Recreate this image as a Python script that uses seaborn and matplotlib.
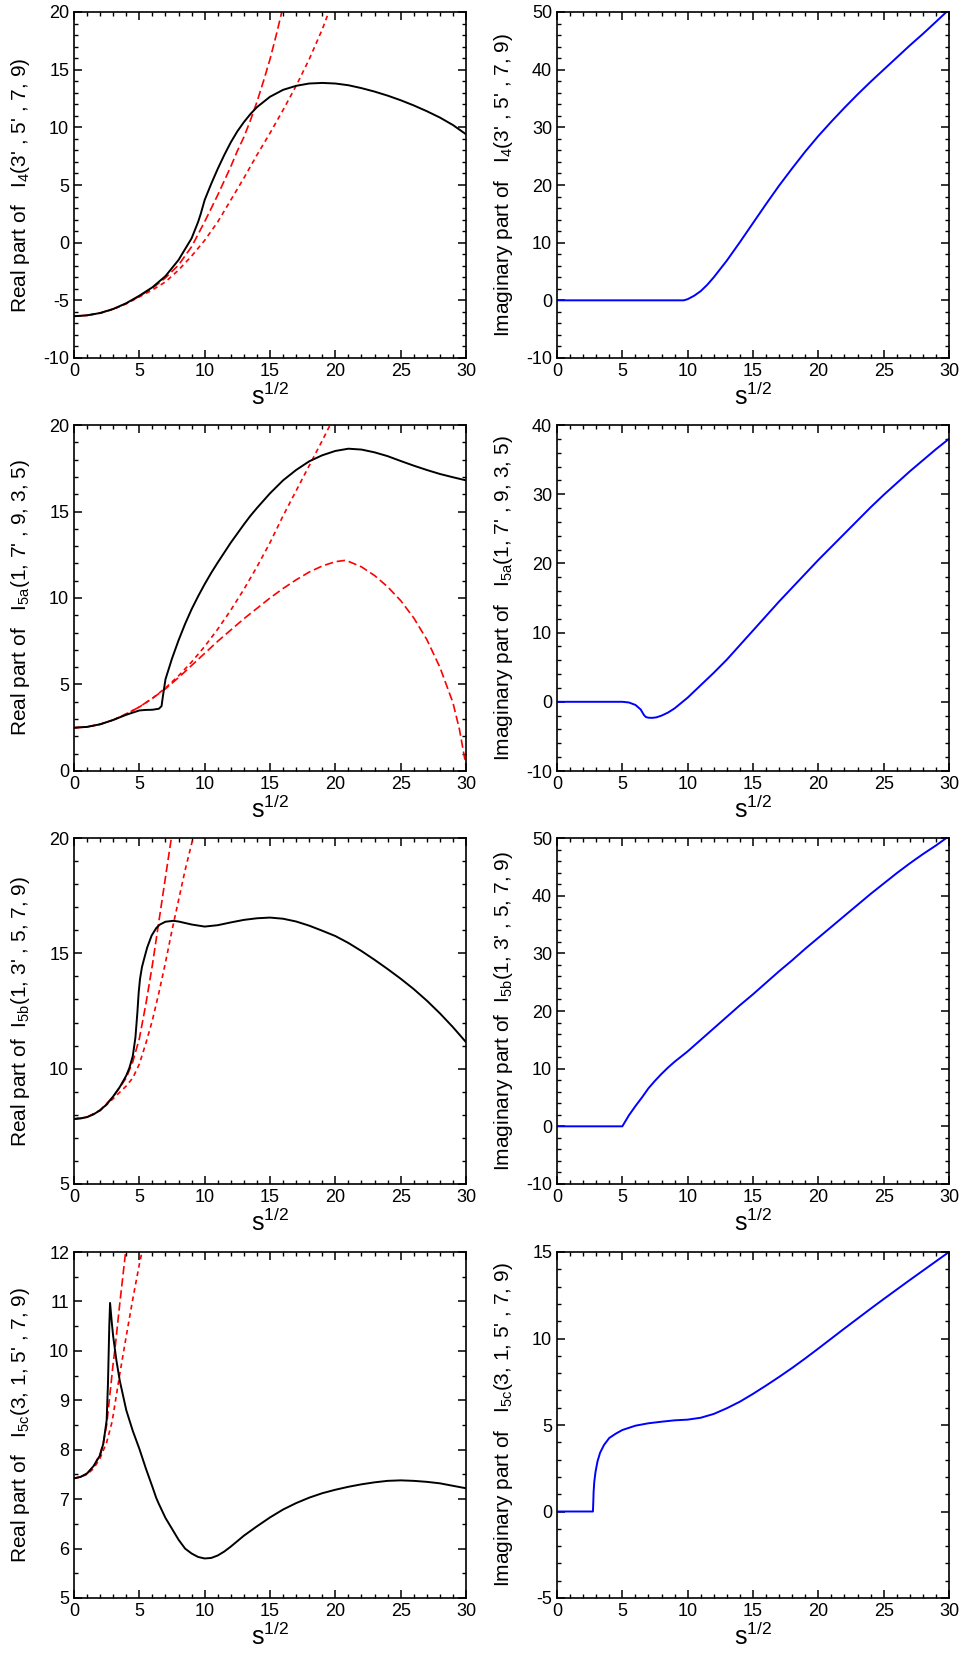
import matplotlib
matplotlib.use("Agg")
import matplotlib.pyplot as plt
from matplotlib.ticker import MultipleLocator
import seaborn as sns

# ── Data (x = s^(1/2)) ────────────────────────────────────────────────────
# I4(3',5',7,9)
i4_re_x = [0, 1, 2, 3, 4, 5, 6, 7, 8, 9, 9.5, 9.7, 10, 10.5, 11, 11.5, 12, 12.5, 13, 13.5,
           14, 15, 16, 17, 18, 19, 20, 21, 22, 23, 24, 25, 26, 27, 28, 29, 30]
i4_re_y = [-6.38, -6.3, -6.1, -5.75, -5.25, -4.6, -3.87, -2.9, -1.5, 0.38, 1.8, 2.5, 3.7,
           5.1, 6.4, 7.6, 8.7, 9.65, 10.45, 11.15, 11.75, 12.65, 13.25, 13.6, 13.8, 13.85,
           13.8, 13.65, 13.4, 13.1, 12.75, 12.35, 11.9, 11.4, 10.85, 10.2, 9.4]
i4_long_x = [0, 1, 2, 3, 4, 5, 6, 7, 8, 9, 10, 11, 12, 12.5, 13, 13.5, 14, 14.5, 15, 15.5, 15.9]
i4_long_y = [-6.38, -6.3, -6.1, -5.75, -5.27, -4.65, -3.95, -3.05, -1.94, -0.35, 1.82,
             4.13, 6.6, 7.95, 9.15, 10.6, 12.2, 14.0, 15.9, 18.1, 20.0]
i4_short_x = [0, 1, 2, 3, 4, 5, 6, 7, 8, 9, 10, 11, 12, 13, 14, 15, 16, 17, 18, 19, 19.5]
i4_short_y = [-6.38, -6.3, -6.12, -5.78, -5.3, -4.7, -4.1, -3.4, -2.37, -1.16, 0.2, 1.8,
              3.7, 5.6, 7.6, 9.5, 11.5, 13.6, 15.9, 18.5, 20.0]
i4_im_x = [0, 9.7, 10, 10.5, 11, 11.5, 12, 13, 14, 15, 16, 17, 18, 19, 20, 21, 22, 23, 24,
           25, 26, 27, 28, 29, 29.8]
i4_im_y = [0, 0, 0.2, 0.8, 1.6, 2.7, 4.0, 6.9, 10.1, 13.4, 16.7, 19.9, 22.9, 25.8, 28.5,
           31.0, 33.4, 35.7, 37.9, 40.0, 42.1, 44.2, 46.2, 48.3, 50.0]

# I5a(1,7',9,3,5)
i5a_re_x = [0, 1, 2, 3, 4, 5, 5.5, 6, 6.5, 6.7, 6.8, 7, 7.5, 8, 8.5, 9, 9.5, 10, 10.5, 11,
            12, 13, 13.5, 14, 15, 16, 17, 18, 19, 20, 21, 22, 23, 24, 25, 26, 27, 28, 29, 30]
i5a_re_y = [2.5, 2.55, 2.7, 2.95, 3.25, 3.5, 3.53, 3.54, 3.6, 3.75, 4.3, 5.3, 6.5, 7.55,
            8.5, 9.35, 10.1, 10.8, 11.45, 12.05, 13.2, 14.25, 14.75, 15.2, 16.05, 16.8,
            17.4, 17.9, 18.25, 18.5, 18.63, 18.58, 18.42, 18.2, 17.92, 17.65, 17.4,
            17.17, 16.98, 16.8]
i5a_short_x = [0, 1, 2, 3, 4, 5, 6, 7, 8, 9, 10, 11, 12, 13, 14, 15, 16, 17, 18, 19, 19.6]
i5a_short_y = [2.5, 2.55, 2.7, 2.95, 3.3, 3.7, 4.2, 4.8, 5.5, 6.3, 7.2, 8.2, 9.3, 10.5,
               11.8, 13.2, 14.75, 16.2, 17.65, 19.1, 20.0]
i5a_long_x = [0, 1, 2, 3, 4, 5, 6, 7, 8, 9, 10, 11, 12, 13, 14, 15, 16, 17, 18, 19, 20,
              20.7, 21, 22, 23, 24, 25, 26, 27, 28, 29, 29.5, 30]
i5a_long_y = [2.5, 2.55, 2.7, 2.95, 3.3, 3.7, 4.2, 4.75, 5.4, 6.1, 6.8, 7.5, 8.15, 8.8,
              9.4, 10.0, 10.55, 11.05, 11.5, 11.85, 12.1, 12.17, 12.12, 11.8, 11.3,
              10.65, 9.85, 8.85, 7.6, 6.0, 3.95, 2.4, 0.3]
i5a_im_x = [0, 5, 5.5, 6, 6.4, 6.65, 6.8, 7.0, 7.3, 7.6, 8, 8.5, 9, 10, 11, 12, 13, 14,
            15, 16, 17, 18, 19, 20, 21, 22, 23, 24, 25, 26, 27, 28, 29, 30]
i5a_im_y = [0, 0, -0.1, -0.45, -1.1, -1.9, -2.2, -2.3, -2.32, -2.25, -2.0, -1.55, -0.95,
            0.6, 2.4, 4.2, 6.1, 8.2, 10.3, 12.4, 14.5, 16.5, 18.5, 20.5, 22.4, 24.3,
            26.2, 28.1, 29.9, 31.6, 33.3, 34.9, 36.5, 38.0]

# I5b(1,3',5,7,9)
i5b_re_x = [0, 0.5, 1, 1.5, 2, 2.5, 3, 3.5, 4, 4.25, 4.5, 4.7, 4.85, 4.95, 5.05, 5.2,
            5.36, 5.6, 5.94, 6.3, 6.58, 7, 7.6, 8, 9, 10, 11, 12, 13, 14, 15, 16, 17, 18,
            19, 20, 21, 22, 23, 24, 25, 26, 27, 28, 29, 30]
i5b_re_y = [7.82, 7.84, 7.9, 8.02, 8.2, 8.45, 8.8, 9.2, 9.7, 10.05, 10.55, 11.35, 12.43,
            13.3, 13.88, 14.4, 14.75, 15.25, 15.77, 16.1, 16.25, 16.37, 16.41, 16.38,
            16.25, 16.16, 16.22, 16.34, 16.45, 16.52, 16.55, 16.5, 16.38, 16.2, 15.98,
            15.75, 15.45, 15.1, 14.72, 14.32, 13.9, 13.45, 12.95, 12.4, 11.8, 11.15]
i5b_long_x = [0, 1, 2, 3, 4, 4.5, 5, 5.5, 6, 6.5, 7, 7.45]
i5b_long_y = [7.82, 7.9, 8.2, 8.78, 9.6, 10.3, 11.3, 12.8, 14.5, 16.4, 18.3, 20.0]
i5b_short_x = [0, 1, 2, 3, 4, 4.5, 5, 5.5, 6, 6.5, 7, 7.5, 8, 8.5, 9, 9.1]
i5b_short_y = [7.82, 7.9, 8.18, 8.7, 9.25, 9.6, 10.2, 11.1, 12.1, 13.3, 14.6, 16.0, 17.3,
               18.6, 19.75, 20.0]
i5b_im_x = [0, 5, 5.5, 6, 6.5, 7, 7.5, 8, 8.5, 9, 9.5, 10, 11, 12, 13, 14, 15, 16, 17,
            18, 19, 20, 21, 22, 23, 24, 25, 26, 27, 28, 29, 29.8]
i5b_im_y = [0, 0, 1.9, 3.5, 5.0, 6.6, 7.9, 9.1, 10.2, 11.2, 12.1, 13.0, 15.0, 17.0, 19.0,
            21.0, 22.9, 24.9, 26.9, 28.8, 30.8, 32.7, 34.6, 36.5, 38.4, 40.3, 42.1, 43.9,
            45.6, 47.2, 48.7, 50.0]

# I5c(3,1,5',7,9)
i5c_re_x = [0, 0.5, 1, 1.5, 2, 2.25, 2.5, 2.6, 2.7, 2.76, 2.9, 3.0, 3.25, 3.5, 4, 4.5, 5,
            5.5, 6, 6.3, 6.5, 7, 7.5, 8, 8.5, 9, 9.5, 10, 10.5, 11, 11.5, 12, 13, 14, 15,
            16, 17, 18, 19, 20, 21, 22, 23, 24, 25, 26, 27, 28, 29, 30]
i5c_re_y = [7.42, 7.45, 7.52, 7.67, 7.89, 8.13, 8.6, 9.34, 10.5, 10.97, 10.55, 10.29,
            9.8, 9.4, 8.8, 8.38, 8.02, 7.62, 7.25, 7.02, 6.9, 6.62, 6.4, 6.18, 6.0, 5.9,
            5.83, 5.8, 5.81, 5.86, 5.94, 6.04, 6.26, 6.45, 6.63, 6.79, 6.92, 7.03, 7.12,
            7.19, 7.25, 7.3, 7.34, 7.37, 7.38, 7.37, 7.35, 7.32, 7.27, 7.22]
i5c_long_x = [0, 0.5, 1, 1.5, 2, 2.25, 2.5, 3, 3.14, 3.5, 3.95]
i5c_long_y = [7.42, 7.45, 7.52, 7.66, 7.92, 8.15, 8.5, 9.75, 10.05, 10.95, 12.0]
i5c_short_x = [0, 0.5, 1, 1.5, 2, 2.5, 2.88, 3.0, 3.47, 4, 4.5, 5, 5.2]
i5c_short_y = [7.42, 7.45, 7.5, 7.62, 7.83, 8.15, 8.53, 8.7, 9.48, 10.3, 11.05, 11.75, 12.0]
i5c_im_x = [0, 2.75, 2.78, 2.8, 2.85, 2.95, 3.1, 3.3, 3.6, 4, 4.5, 5, 6, 7, 8, 9, 10, 11,
            12, 13, 14, 15, 16, 17, 18, 19, 20, 21, 22, 23, 24, 25, 26, 27, 28, 29, 30]
i5c_im_y = [0, 0, 0.6, 1.1, 1.7, 2.3, 2.9, 3.4, 3.85, 4.25, 4.5, 4.71, 4.96, 5.1, 5.19,
            5.27, 5.31, 5.42, 5.64, 5.97, 6.35, 6.8, 7.28, 7.78, 8.3, 8.85, 9.42, 10.0,
            10.58, 11.15, 11.72, 12.28, 12.83, 13.38, 13.92, 14.46, 15.0]

labels = [
    ("Real part of   I$_{\\mathrm{4}}$(3' , 5' , 7, 9)",
     "Imaginary part of   I$_{\\mathrm{4}}$(3' , 5' , 7, 9)"),
    ("Real part of   I$_{\\mathrm{5a}}$(1, 7' , 9, 3, 5)",
     "Imaginary part of   I$_{\\mathrm{5a}}$(1, 7' , 9, 3, 5)"),
    ("Real part of  I$_{\\mathrm{5b}}$(1, 3' , 5, 7, 9)",
     "Imaginary part of  I$_{\\mathrm{5b}}$(1, 3' , 5, 7, 9)"),
    ("Real part of   I$_{\\mathrm{5c}}$(3, 1, 5' , 7, 9)",
     "Imaginary part of   I$_{\\mathrm{5c}}$(3, 1, 5' , 7, 9)"),
]

# ── Style ──────────────────────────────────────────────────────────────────
sns.set_theme(style="ticks")
plt.rcParams["font.family"] = ["Liberation Sans", "DejaVu Sans"]
plt.rcParams["mathtext.fontset"] = "custom"
plt.rcParams["mathtext.rm"] = "Liberation Sans"
plt.rcParams["mathtext.it"] = "Liberation Sans:italic"
plt.rcParams["mathtext.bf"] = "Liberation Sans:bold"
plt.rcParams["axes.unicode_minus"] = False

LONG = (0, (5.0, 2.3))
SHORT = (0, (2.8, 2.3))
RED = "#ff0000"
BLUE = "#0000ff"

fig = plt.figure(figsize=(9.63, 16.57), dpi=100)
W, H = 963, 1657
col_left = [74, 557]
row_bottom = [358, 771, 1184, 1598]
aw, ah = 392, 346


def make_ax(r, c):
    return fig.add_axes([col_left[c] / W, 1 - row_bottom[r] / H, aw / W, ah / H])


def line(ax, x, y, color, ls="-", lw=1.4):
    sns.lineplot(x=x, y=y, ax=ax, color=color, linewidth=lw, linestyle=ls,
                 estimator=None, sort=False)


def style(ax, ylim, major, minor, ylabel):
    ax.set_xlim(0, 30)
    ax.set_ylim(*ylim)
    ax.xaxis.set_major_locator(MultipleLocator(5))
    ax.xaxis.set_minor_locator(MultipleLocator(1))
    ax.yaxis.set_major_locator(MultipleLocator(major))
    ax.yaxis.set_minor_locator(MultipleLocator(minor))
    ax.tick_params(which="both", direction="in", top=True, right=True,
                   color="black", labelcolor="black", labelsize=13)
    ax.tick_params(which="major", length=6, width=1.1)
    ax.tick_params(which="minor", length=3, width=1.0)
    for s in ax.spines.values():
        s.set_color("black")
        s.set_linewidth(1.2)
    ax.set_xlabel("s$^{\\mathrm{1/2}}$", fontsize=18, color="black", labelpad=2)
    ax.set_ylabel(ylabel, fontsize=15, color="black")
    ax.yaxis.set_label_coords(-0.107, 0.5)


# Row 1: I4
ax = make_ax(0, 0)
line(ax, i4_long_x, i4_long_y, RED, LONG, 1.2)
line(ax, i4_short_x, i4_short_y, RED, SHORT, 1.2)
line(ax, i4_re_x, i4_re_y, "black")
style(ax, (-10, 20), 5, 1, labels[0][0])
ax = make_ax(0, 1)
line(ax, i4_im_x, i4_im_y, BLUE)
style(ax, (-10, 50), 10, 2, labels[0][1])

# Row 2: I5a
ax = make_ax(1, 0)
line(ax, i5a_long_x, i5a_long_y, RED, LONG, 1.2)
line(ax, i5a_short_x, i5a_short_y, RED, SHORT, 1.2)
line(ax, i5a_re_x, i5a_re_y, "black")
style(ax, (0, 20), 5, 1, labels[1][0])
ax = make_ax(1, 1)
line(ax, i5a_im_x, i5a_im_y, BLUE)
style(ax, (-10, 40), 10, 2, labels[1][1])

# Row 3: I5b
ax = make_ax(2, 0)
line(ax, i5b_long_x, i5b_long_y, RED, LONG, 1.2)
line(ax, i5b_short_x, i5b_short_y, RED, SHORT, 1.2)
line(ax, i5b_re_x, i5b_re_y, "black")
style(ax, (5, 20), 5, 1, labels[2][0])
ax = make_ax(2, 1)
line(ax, i5b_im_x, i5b_im_y, BLUE)
style(ax, (-10, 50), 10, 2, labels[2][1])

# Row 4: I5c
ax = make_ax(3, 0)
line(ax, i5c_long_x, i5c_long_y, RED, LONG, 1.2)
line(ax, i5c_short_x, i5c_short_y, RED, SHORT, 1.2)
line(ax, i5c_re_x, i5c_re_y, "black")
style(ax, (5, 12), 1, 0.5, labels[3][0])
ax = make_ax(3, 1)
line(ax, i5c_im_x, i5c_im_y, BLUE)
style(ax, (-5, 15), 5, 1, labels[3][1])

fig.savefig("out.png", dpi=100)
